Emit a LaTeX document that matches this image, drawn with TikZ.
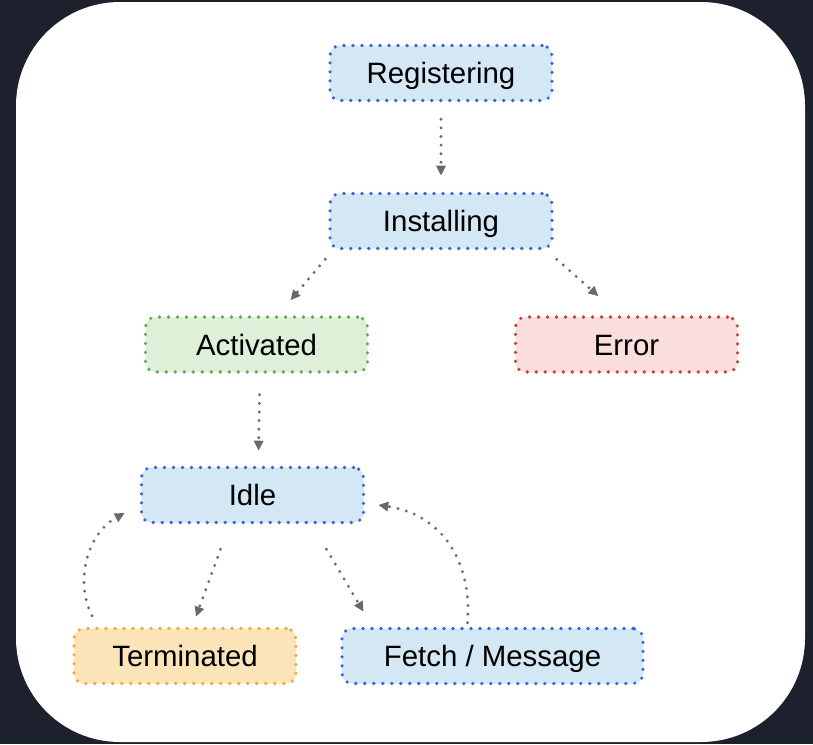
\documentclass[tikz,border=0pt]{standalone}
\usepackage{fontspec}
\setmainfont{Liberation Sans}
\usetikzlibrary{arrows.meta}
\definecolor{bgdark}{RGB}{28,33,45}
\definecolor{bluefill}{RGB}{211,231,244}
\definecolor{blueline}{RGB}{55,100,222}
\definecolor{greenfill}{RGB}{223,240,216}
\definecolor{greenline}{RGB}{98,170,88}
\definecolor{redfill}{RGB}{250,222,220}
\definecolor{redline}{RGB}{212,58,58}
\definecolor{orangefill}{RGB}{250,228,184}
\definecolor{orangeline}{RGB}{236,170,72}
\definecolor{arrowgray}{RGB}{105,105,105}
\tikzset{
  statebox/.style={rounded corners=5pt, line width=1.8pt, dash pattern=on 0pt off 4.5pt, line cap=round,
    minimum width=111pt, minimum height=27.5pt, inner sep=0pt, font=\fontsize{14.7}{17}\selectfont,
    text height=13.6pt, text depth=3.1pt, text=black},
  bluebox/.style={statebox, draw=blueline, fill=bluefill},
  greenbox/.style={statebox, draw=greenline, fill=greenfill},
  redbox/.style={statebox, draw=redline, fill=redfill},
  orangebox/.style={statebox, draw=orangeline, fill=orangefill},
  flow/.style={draw=arrowgray, line width=1.6pt, dash pattern=on 0pt off 4.3pt, line cap=round,
    -{Triangle[length=5pt,width=4.6pt]}}
}
\begin{document}
\begin{tikzpicture}[x=0.5pt,y=-0.5pt]
\useasboundingbox (0,0) rectangle (813,744);
\fill[bgdark] (0,0) rectangle (813,744);
\fill[white, rounded corners=52pt] (16,2) rectangle (805,742);

\node[bluebox] (reg) at (441,73) {Registering};
\node[bluebox] (inst) at (441,221) {Installing};
\node[greenbox] (act) at (256.5,344.5) {Activated};
\node[redbox] (err) at (626.5,344.5) {Error};
\node[bluebox] (idle) at (252.5,495) {Idle};
\node[orangebox] (term) at (185,656) {Terminated};
\node[bluebox, minimum width=150.5pt] (fetch) at (492.5,656) {Fetch / Message};

\draw[flow] ([shift={(0,17)}]reg.south) -- ([shift={(0,-16)}]inst.north);
\draw[flow] ([shift={(-3,9)}]inst.south west) -- ([shift={(34,-15)}]act.north);
\draw[flow] ([shift={(3,9)}]inst.south east) -- ([shift={(-28,-19)}]err.north);
\draw[flow] ([shift={(3,21)}]act.south) -- ([shift={(6,-15)}]idle.north);
\draw[flow] ([shift={(-32,25)}]idle.south) -- ([shift={(11,-10)}]term.north);
\draw[flow] ([shift={(74,25)}]idle.south) -- ([shift={(-129,-15)}]fetch.north);
\draw[flow] ([shift={(-93,-11)}]term.north) .. controls (74,580) and (88,533) .. ([shift={(-15,18)}]idle.west);
\draw[flow] ([shift={(-25,-4)}]fetch.north) .. controls (472,565) and (445,515) .. ([shift={(13,10)}]idle.east);
\end{tikzpicture}
\end{document}
